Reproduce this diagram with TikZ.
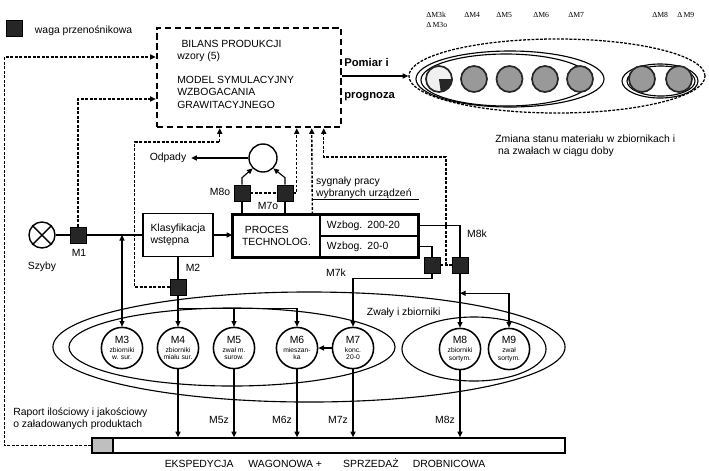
\documentclass[tikz,border=0pt]{standalone}
\usepackage{fontspec}
\setmainfont{Liberation Sans}
\newfontfamily\deltafont{Liberation Serif}
\usetikzlibrary{arrows.meta,calc,shapes.geometric}
\newcommand\zbt[3]{{\fontsize{7.4}{7.6}\selectfont #1}\\[1.5pt]#2\\#3}

\begin{document}
\begin{tikzpicture}[x=0.025cm,y=-0.025cm,font=\fontsize{7.4}{8.8}\selectfont,>={Triangle[length=4pt,width=3.6pt]},ln/.style={line width=.8pt},box/.style={draw,line width=.9pt,inner sep=1pt},waga/.style={draw,fill=black!85,minimum size=.4cm,inner sep=0pt},zb/.style={circle,draw,line width=1.1pt,fill=white,minimum size=1.03cm,inner sep=0pt,align=center,font=\fontsize{4.8}{5.2}\selectfont},kol/.style={circle,draw=black!85,line width=1.2pt,fill=black!40,minimum size=.65cm},elp/.style={ellipse,draw,line width=.8pt,inner sep=0pt},sig/.style={line width=1pt,dash pattern=on 2pt off 1.2pt},dlt/.style={font=\deltafont\fontsize{5.5}{6}\selectfont,anchor=west,inner sep=0pt}]
\useasboundingbox (0,0) rectangle (709,470);
\node[waga] (leg) at (14,28) {};
\node[anchor=west] (legtxt) at (30,31) {waga przenośnikowa};
\node[draw,line width=1.8pt,dash pattern=on 4.5pt off 2.5pt,minimum width=4.6cm,minimum height=2.475cm] (bilans) at (249,77.5) {};
\node[anchor=west,align=left,inner sep=0pt] (bilanstxt) at (177,74) {\hspace{3pt}BILANS PRODUKCJI\\wzory (5)\\[8.3pt]MODEL SYMULACYJNY\\WZBOGACANIA\\GRAWITACYJNEGO};
\node[ellipse,draw,line width=.9pt,dash pattern=on 2pt off 1pt,minimum width=7.4cm,minimum height=1.85cm,inner sep=0pt] (zm) at (557,76) {};
\node[elp,minimum width=4.7cm,minimum height=1.4cm] (grp1) at (510,79) {};
\node[elp,minimum width=4.25cm,minimum height=1.3cm] (grp1i) at (506,80) {};
\node[elp,minimum width=1.9cm,minimum height=.85cm] (grp2) at (660,81) {};
\node[elp,minimum width=1.7cm,minimum height=.75cm] (grp2i) at (661,81) {};
\node[kol,fill=black!6] (c3) at (439,79) {};
\fill[black!85] (c3.center) -- (c3.east) arc[start angle=0,end angle=90,radius=12.2] -- cycle;
\foreach \n/\x in {4/474,5/509.5,6/545,7/580,8/642,9/679} \node[kol] (c\n) at (\x,79) {};
\foreach \n/\x/\t in {d3k/426/ΔM3k,d4/464/ΔM4,d5/496/ΔM5,d6/533/ΔM6,d7/568/ΔM7,d8/652/ΔM8,d9/677/Δ\,M9} \node[dlt] (\n) at (\x,15) {\t};
\node[dlt] (d3o) at (426,25) {Δ\,M3o};
\draw[ln,->] (bilans.east |- zm.west) -- node[pos=0,anchor=south west,font=\bfseries\fontsize{8}{9}\selectfont,inner sep=1pt,yshift=5.5pt]{Pomiar i} node[pos=0,anchor=north west,font=\bfseries\fontsize{8}{9}\selectfont,inner sep=1pt,yshift=-10.4pt]{prognoza} (zm.west);
\node[anchor=west,align=left,inner sep=0pt] (zmtxt) at (495,146) {Zmiana stanu materiału w zbiornikach i\\\hspace{2pt}na zwałach w ciągu doby};
\node[circle,draw,line width=1pt,minimum size=.7cm] (odp) at (263,158) {};
\node (odptxt) at (168,158) {Odpady};
\node[waga] (m8o) at (242,193) {};
\node[waga] (m7o) at (285,193) {};
\node (m8otxt) at (220,192) {M8o};
\node (m7otxt) at (268,206) {M7o};
\node[box,minimum width=2.175cm,minimum height=1.05cm,align=left] (procl) at (276.5,236) {\hspace{2pt}PROCES\\TECHNOLOG.};
\node[box,minimum height=.525cm,text width=2.1cm,inner xsep=.175cm,align=left] (wz1) at (369,225.5) {Wzbog. 200-20};
\node[box,minimum height=.525cm,text width=2.1cm,inner xsep=.175cm,align=left] (wz2) at (369,246.5) {Wzbog. 20-0};
\draw[line width=2pt] (procl.north west) rectangle (wz2.south east);
\node[anchor=south west,align=left,inner xsep=2.5pt,inner ysep=0pt] (sygtxt) at ($(procl.north west)+(80,-15)$) {sygnały pracy\\wybranych urządzeń};
\node[box,minimum width=1.75cm,minimum height=1.075cm,align=left] (klas) at (178,235) {Klasyfikacja\\wstępna};
\node[circle,draw,line width=1pt,minimum size=.65cm] (szyby) at (42,235) {};
\draw[line width=1pt] (szyby.north west) -- (szyby.south east) (szyby.north east) -- (szyby.south west);
\node (szybytxt) at (42,267) {Szyby};
\node[waga] (m1) at (78,235) {};
\node (m1txt) at (79,253) {M1};
\node[waga] (m2) at (178,287) {};
\node (m2txt) at (193,268) {M2};
\node[waga] (m7k) at (432,265) {};
\node[waga] (m8k) at (460,265) {};
\node (m7ktxt) at (336,273) {M7k};
\node (m8ktxt) at (477,234) {M8k};
\node[elp,minimum width=12.8cm,minimum height=2.75cm] (zw) at (309,347) {};
\node[elp,minimum width=8.15cm,minimum height=1.95cm] (zwl) at (232,347) {};
\node[elp,minimum width=3.6cm,minimum height=1.6cm] (zwp) at (474,349) {};
\node[anchor=west] (zwtxt) at (362,313) {Zwały i zbiorniki};
\node[zb] (m3) at (122,348) {\zbt{M3}{zbiorniki}{w. sur.}};
\node[zb] (m4) at (178,348) {\zbt{M4}{zbiorniki}{miału sur.}};
\node[zb] (m5) at (234,348) {\zbt{M5}{zwał m.}{surow.}};
\node[zb] (m6) at (297,348) {\zbt{M6}{mieszan-}{ka}};
\node[zb] (m7) at (353,348) {\zbt{M7}{konc.}{20-0}};
\node[zb] (m8) at (460,349) {\zbt{M8}{zbiorniki}{sortym.}};
\node[zb] (m9) at (509,349) {\zbt{M9}{zwał}{sortym.}};
\node[draw,line width=1pt,minimum width=11.825cm,minimum height=.375cm,inner sep=0pt] (bar) at (328.5,445.5) {};
\node[draw,line width=1pt,fill=black!25,minimum width=.525cm,minimum height=.375cm,inner sep=0pt] (patch) at (102.5,445.5) {};
\node (eksp) at (325,463) {EKSPEDYCJA\hspace{8.5pt} WAGONOWA +\hspace{13pt} SPRZEDAŻ\hspace{8pt} DROBNICOWA};
\node[anchor=west,align=left,inner sep=0pt] (raport) at (13,418.5) {Raport ilościowy i jakościowy\\o załadowanych produktach};
\draw[ln] (szyby) -- (m1) -- (klas);
\draw[ln,->] (klas.east) -- (klas.east -| procl.west);
\draw[ln,<->] (m3.north) -- (m3.north |- m1.east);
\draw[ln] (klas) -- (m2);
\draw[ln,->] (m2) -- (m4);
\coordinate (jm2) at ($(m2.south)+(0,13)$);
\draw[ln,->] (jm2) -| (m5.north);
\draw[ln,->] (jm2) -| (m6.north);
\draw[ln,->] (m7) -- (m6);
\draw[ln] (m8o.south) -- (m8o.south |- procl.north);
\draw[ln] (m7o.south) -- (m7o.south |- procl.north);
\draw[ln,->] (m8o.north) -- ++(0,-7) -- (odp.south west);
\draw[ln,->] (m7o.north) -- ++(0,-7) -- (odp.south east);
\draw[ln,->] (odp) -- (odptxt);
\draw[ln] (wz2.east) -| (m7k.north);
\draw[ln] (wz1.east) -| (m8k.north);
\draw[ln,->] (m7k.south) -- ++(0,5) -| (m7.north);
\draw[ln,->] (m8k) -- (m8);
\draw[ln,<->] (m9.north) |- ($(m8k.south)+(0,20)$);
\draw[ln,->] (m4.south) -- (m4.south |- bar.north);
\foreach \n/\t in {5/M5z,6/M6z,7/M7z,8/M8z} \draw[ln,->] (m\n.south) -- node[left,pos=.74]{\t} (m\n.south |- bar.north);
\draw[line width=.6pt] (sygtxt.south west) -- (sygtxt.south west -| wz1.east);
\draw[sig] (m8o) -- (m7o);
\draw[sig,->] (m7o.east) -| ($(bilans.south west)+(141,0)$);
\draw[sig,->] ($(procl.north west)+(80,0)$) -- ($(bilans.south west)+(156,0)$);
\draw[sig] (m7k) -- (m8k);
\draw[sig,->] ($(m7k.east)!.5!(m8k.west)$) -- ++(0,-108) -| ($(bilans.south west)+(168,0)$);
\draw[sig,->] (m2.west) -- ++(-35,0) -- ++(0,-145) -| ($(bilans.south west)+(64,0)$);
\draw[sig,->] (m1.north) |- ($(bilans.west)+(0,21.5)$);
\draw[sig,->] (patch.west) -- ++(-87,0) |- ($(bilans.west)+(0,-20.5)$);
\end{tikzpicture}
\end{document}
